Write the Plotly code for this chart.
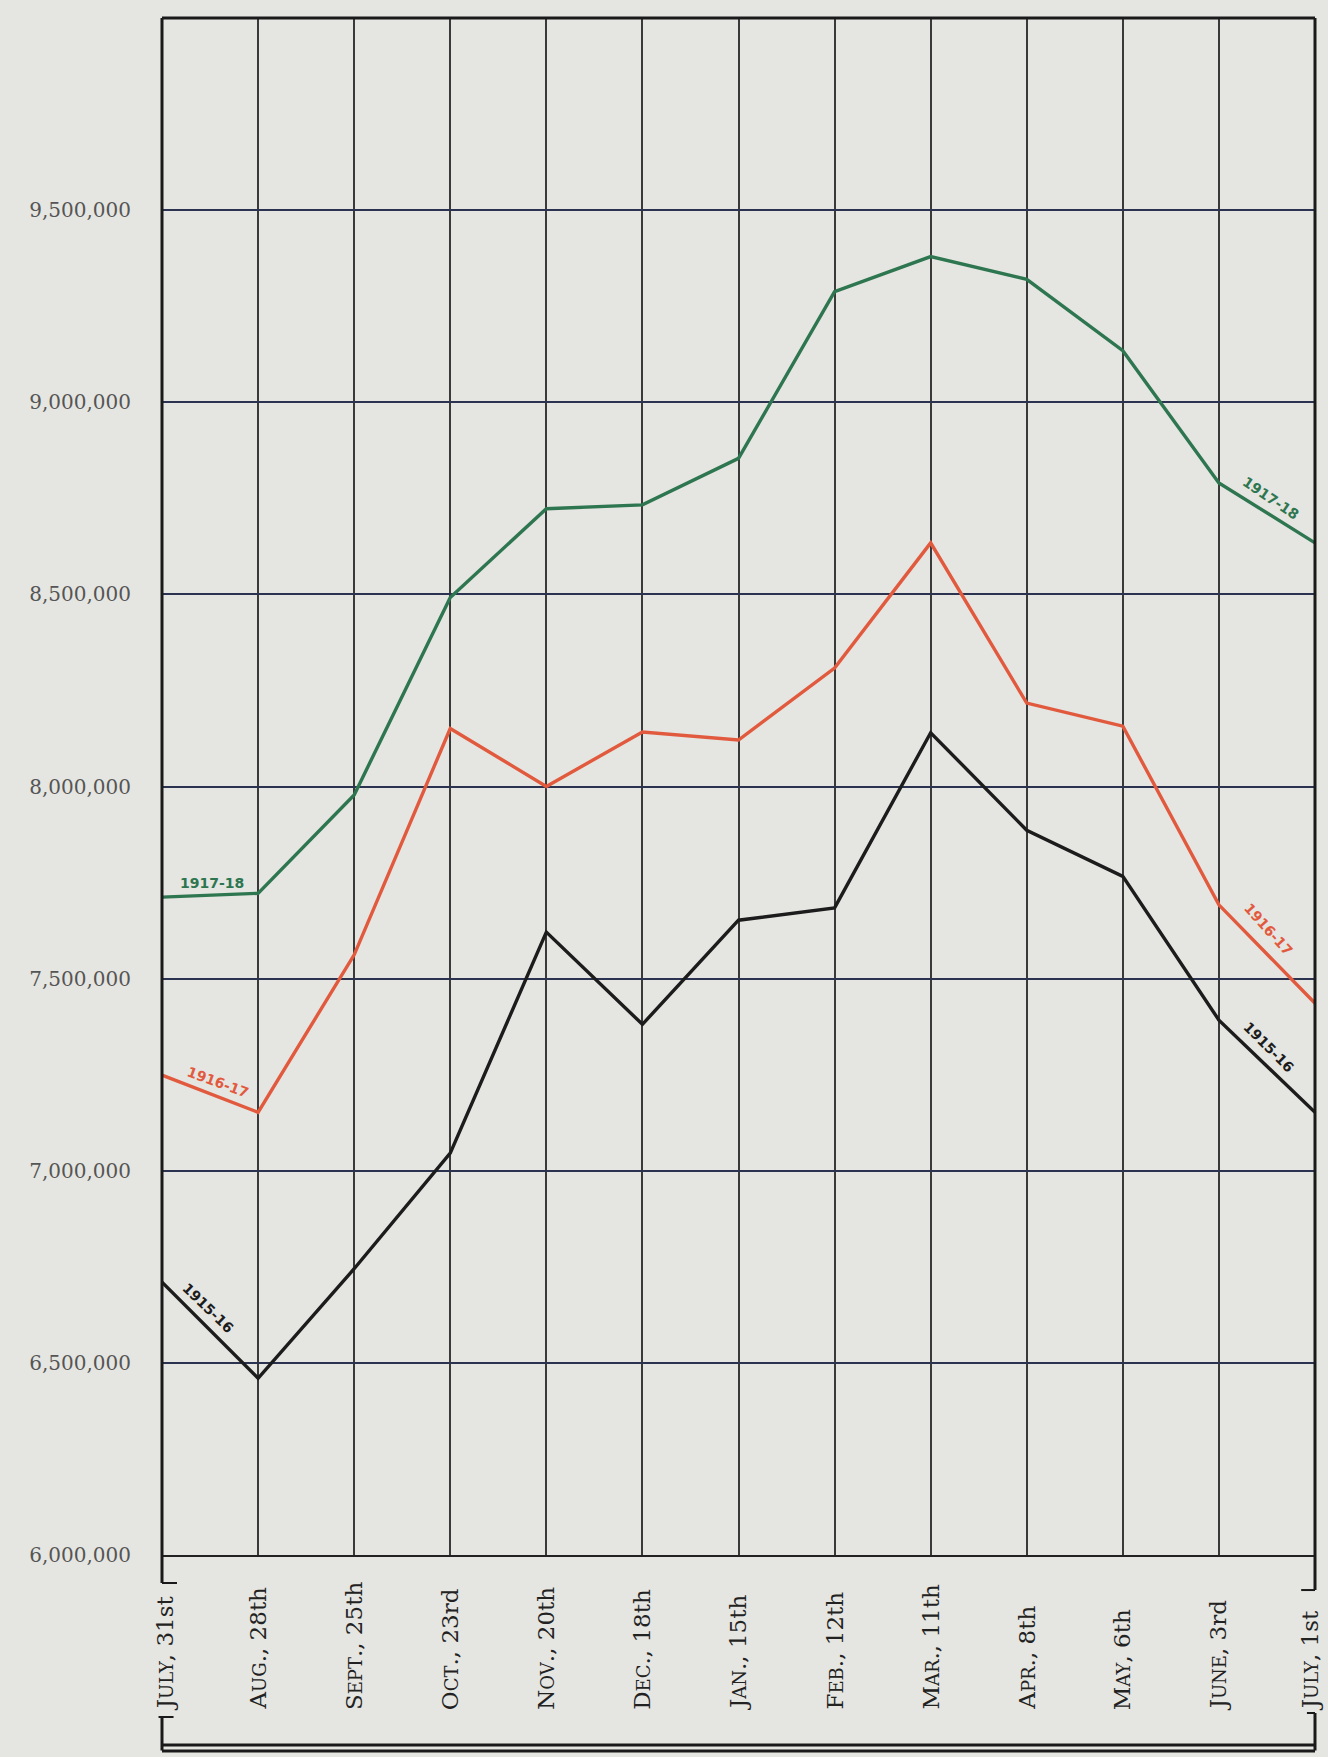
import plotly.graph_objects as go

categories = ["July, 31st", "Aug., 28th", "Sept., 25th", "Oct., 23rd", "Nov., 20th",
              "Dec., 18th", "Jan., 15th", "Feb., 12th", "Mar., 11th", "Apr., 8th",
              "May, 6th", "June, 3rd", "July, 1st"]

s1917_18 = [7712000, 7722000, 7978000, 8492000, 8723000, 8733000, 8854000,
            9288000, 9379000, 9320000, 9134000, 8790000, 8634000]
s1916_17 = [7249000, 7152000, 7562000, 8151000, 8000000, 8142000, 8121000,
            8308000, 8634000, 8217000, 8157000, 7692000, 7436000]
s1915_16 = [6710000, 6460000, 6745000, 7046000, 7621000, 7381000, 7652000,
            7684000, 8140000, 7886000, 7766000, 7392000, 7152000]

y_ticks = [6000000, 6500000, 7000000, 7500000, 8000000, 8500000, 9000000, 9500000]

series_names = ["1917-18", "1916-17", "1915-16"]
series_values = [s1917_18, s1916_17, s1915_16]
series_colors = ["#2e7650", "#e25a3e", "#1c1c1c"]

# label placements: (x index, value, angle) at start and end of each line
label_pos = {
    "1917-18": [(0.52, 7748000, 0), (11.54, 8752000, 34)],
    "1916-17": [(0.58, 7232000, 20), (11.51, 7628000, 48)],
    "1915-16": [(0.48, 6643000, 44), (11.52, 7323000, 45)],
}

bg = "#e5e5e1"
x_idx = list(range(len(categories)))


def small_caps(label):
    month, day = label.split(", ")
    word = month.rstrip(".")
    dot = "." if month.endswith(".") else ""
    return (word[0].upper() + "<span style='font-size:18px'>" + word[1:].upper()
            + "</span>" + dot + ", " + day)


fig = go.Figure()
for name, vals, col in zip(series_names, series_values, series_colors):
    fig.add_trace(go.Scatter(x=x_idx, y=vals, mode="lines", name=name,
                             line=dict(color=col, width=3.4), showlegend=False,
                             hoverinfo="skip"))

annotations = []
for name, col in zip(series_names, series_colors):
    for (xx, yy, ang) in label_pos[name]:
        annotations.append(dict(x=xx, y=yy, xref="x", yref="y", text=name,
                                showarrow=False, textangle=ang,
                                font=dict(family="DejaVu Sans", size=14, color=col,
                                          weight="bold")))

# x category labels, rotated, bottom aligned
for i, c in enumerate(categories):
    xpos = i
    if i == 0:
        xpos = 0.04
    elif i == len(categories) - 1:
        xpos = i - 0.05
    annotations.append(dict(x=xpos, y=-0.1021, xref="x", yref="paper", text=small_caps(c),
                            showarrow=False, textangle=-90, xanchor="center",
                            yanchor="bottom",
                            font=dict(family="DejaVu Serif", size=23, color="#222222")))

line_style = dict(color="#1a1a1a", width=3)
stub_style = dict(color="#1a1a1a", width=2)
fig.update_layout(
    width=1328, height=1757,
    margin=dict(l=162, r=13, t=18, b=202),
    paper_bgcolor=bg, plot_bgcolor=bg,
    xaxis=dict(range=[0, len(categories) - 1], tickvals=x_idx, showticklabels=False,
               showgrid=True, gridcolor="#3a3a3a", gridwidth=1.5, zeroline=False,
               showline=True, linecolor="#222", linewidth=2, ticks=""),
    yaxis=dict(range=[6000000, 10000000], tickvals=y_ticks, tickformat=",",
               showgrid=True, gridcolor="#2b3350", gridwidth=1.6, zeroline=False,
               ticks="outside", ticklen=26, tickcolor="rgba(0,0,0,0)",
               tickfont=dict(family="DejaVu Serif", size=20, color="#555555"),
               showline=False),
    annotations=annotations,
    shapes=[
        # left border (broken around first label)
        dict(type="line", xref="paper", yref="paper", x0=0, x1=0, y0=1, y1=-0.0182,
             line=line_style),
        dict(type="line", xref="paper", yref="paper", x0=0, x1=0, y0=-0.1054, y1=-0.1272,
             line=line_style),
        # right border (broken around last label)
        dict(type="line", xref="paper", yref="paper", x0=1, x1=1, y0=1, y1=-0.0228,
             line=line_style),
        dict(type="line", xref="paper", yref="paper", x0=1, x1=1, y0=-0.1028, y1=-0.1272,
             line=line_style),
        # top border
        dict(type="line", xref="paper", yref="paper", x0=0, x1=1, y0=1, y1=1,
             line=line_style),
        # bottom double rule
        dict(type="line", xref="paper", yref="paper", x0=0, x1=1, y0=-0.1236, y1=-0.1236,
             line=line_style),
        dict(type="line", xref="paper", yref="paper", x0=0, x1=1, y0=-0.1275, y1=-0.1275,
             line=line_style),
        # label stubs
        dict(type="line", xref="paper", yref="paper", x0=0, x1=0.013, y0=-0.0182, y1=-0.0182,
             line=stub_style),
        dict(type="line", xref="paper", yref="paper", x0=-0.003, x1=0.01, y0=-0.1054, y1=-0.1054,
             line=stub_style),
        dict(type="line", xref="paper", yref="paper", x0=0.988, x1=1, y0=-0.0228, y1=-0.0228,
             line=stub_style),
        dict(type="line", xref="paper", yref="paper", x0=0.993, x1=1, y0=-0.1028, y1=-0.1028,
             line=stub_style),
    ],
)

fig.write_html("out.html", config={"displayModeBar": False},
               post_script="document.body.style.margin='0';document.body.style.overflow='hidden';document.body.style.background='" + bg + "';")
